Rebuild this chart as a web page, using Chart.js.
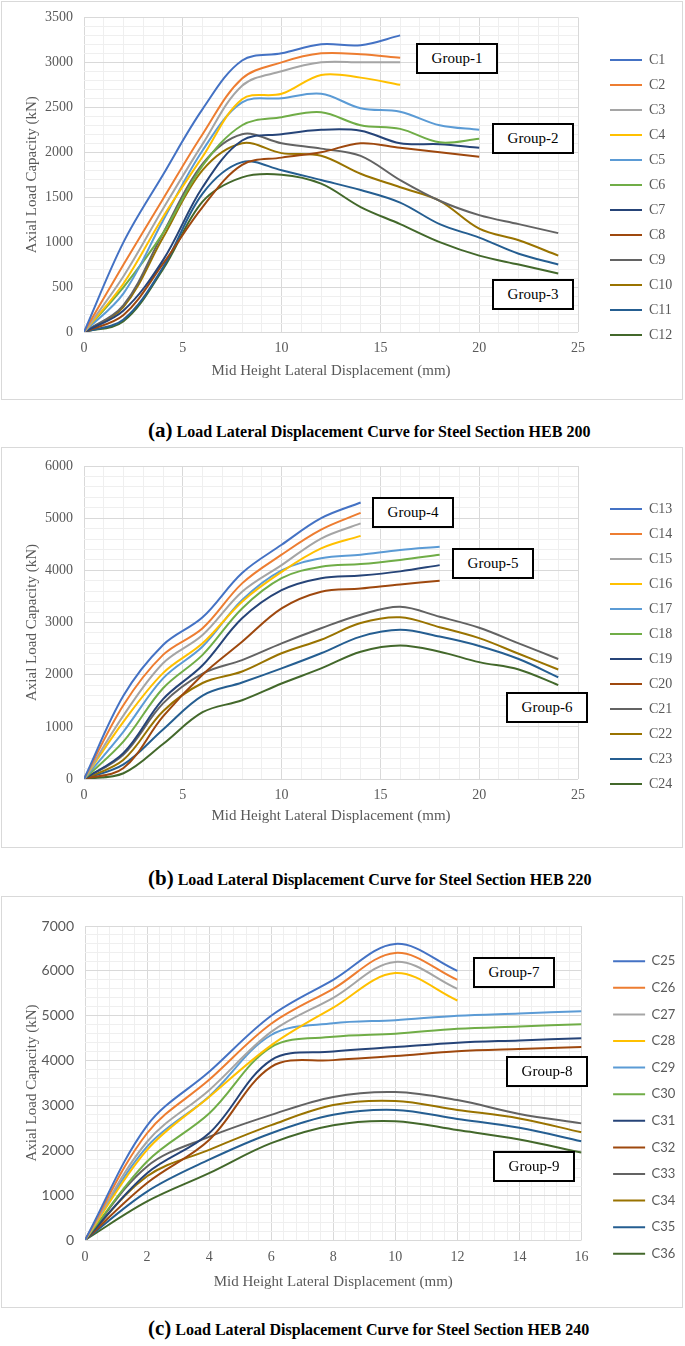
<!DOCTYPE html>
<html>
<head>
<meta charset="utf-8">
<script src="https://cdn.jsdelivr.net/npm/chart.js@4.4.1/dist/chart.umd.min.js"></script>
<style>
  body { margin: 0; background: #fff; width: 685px; height: 1346px; position: relative; overflow: hidden; font-family: "Liberation Serif", serif; }
  .panel { position: absolute; left: 1px; width: 682px; border: 1px solid #d9d9d9; box-sizing: border-box; }
  canvas { position: absolute; left: 0; z-index: 1; }
  .grp { position: absolute; z-index: 2; border: 2px solid #000; box-sizing: border-box; background: #fff;
         font: 15px "Liberation Serif", serif; color: #000; display: flex; align-items: center; justify-content: center; }
  .cap { position: absolute; left: 148px; font-family: "Liberation Serif", serif; font-weight: bold; color: #000; white-space: nowrap; line-height: 24px; }
  .cap b { font-size: 21px; margin-right: 4px; }
  .cap span { font-size: 16px; }
</style>
</head>
<body>
<div class="panel" style="top:1px;height:399px"></div>
<div class="panel" style="top:447px;height:401px"></div>
<div class="panel" style="top:896px;height:412px"></div>

<canvas id="chartA" width="685" height="400" style="top:-2px"></canvas>
<canvas id="chartB" width="685" height="410" style="top:440px"></canvas>
<canvas id="chartC" width="685" height="420" style="top:890px"></canvas>

<div class="grp" style="left:416px;top:43px;width:82px;height:31px">Group-1</div>
<div class="grp" style="left:492px;top:123px;width:82px;height:31px">Group-2</div>
<div class="grp" style="left:492px;top:279px;width:82px;height:31px">Group-3</div>
<div class="grp" style="left:372px;top:497px;width:82px;height:31px">Group-4</div>
<div class="grp" style="left:452px;top:548px;width:82px;height:31px">Group-5</div>
<div class="grp" style="left:506px;top:692px;width:82px;height:31px">Group-6</div>
<div class="grp" style="left:473px;top:957px;width:82px;height:31px">Group-7</div>
<div class="grp" style="left:506px;top:1056px;width:82px;height:31px">Group-8</div>
<div class="grp" style="left:493px;top:1151px;width:82px;height:31px">Group-9</div>

<div class="cap" style="top:418px"><b>(a)</b><span>Load Lateral Displacement Curve for Steel Section HEB 200</span></div>
<div class="cap" style="top:866px"><b>(b)</b><span>Load Lateral Displacement Curve for Steel Section HEB 220</span></div>
<div class="cap" style="top:1316px"><b>(c)</b><span>Load Lateral Displacement Curve for Steel Section HEB 240</span></div>

<script>
Chart.defaults.font.family = '"Liberation Serif", serif';

const palette = ['#4472C4', '#ED7D31', '#A5A5A5', '#FFC000', '#5B9BD5', '#70AD47',
                 '#264478', '#9E480E', '#636363', '#997300', '#255E91', '#43682B'];

// (a) HEB 200 - displacement (mm) for each group
const dispG1 = [0, 2, 4, 6, 8, 10, 12, 14, 16];
const dispG2 = [0, 2, 4, 6, 8, 10, 12, 14, 16, 18, 20];
const dispG3 = [0, 2, 4, 6, 8, 10, 12, 14, 16, 18, 20, 22, 24];
// axial load (kN)
const c1 = [0, 1000, 1750, 2480, 3020, 3100, 3200, 3190, 3300];
const c2 = [0, 750, 1480, 2200, 2820, 3000, 3100, 3090, 3050];
const c3 = [0, 620, 1370, 2090, 2740, 2900, 3000, 3000, 3000];
const c4 = [0, 540, 1280, 1950, 2590, 2650, 2860, 2830, 2750];
const c5 = [0, 430, 1240, 2020, 2555, 2600, 2650, 2490, 2450, 2300, 2250];
const c6 = [0, 500, 1100, 1850, 2300, 2390, 2445, 2300, 2260, 2110, 2150];
const c7 = [0, 240, 800, 1610, 2130, 2200, 2250, 2240, 2100, 2090, 2050];
const c8 = [0, 190, 760, 1390, 1860, 1940, 2000, 2100, 2050, 2000, 1950];
const c9 = [0, 300, 1100, 1870, 2200, 2100, 2040, 1960, 1690, 1460, 1300, 1200, 1100];
const c10 = [0, 280, 1050, 1800, 2100, 1990, 1960, 1760, 1610, 1460, 1150, 1020, 850];
const c11 = [0, 140, 720, 1540, 1890, 1800, 1690, 1580, 1440, 1200, 1050, 870, 750];
const c12 = [0, 120, 700, 1450, 1720, 1750, 1650, 1390, 1200, 1000, 850, 750, 650];

// (b) HEB 220
const dispG4 = [0, 2, 4, 6, 8, 10, 12, 14];
const dispG5 = [0, 2, 4, 6, 8, 10, 12, 14, 16, 18];
const dispG6 = [0, 2, 4, 6, 8, 10, 12, 14, 16, 18, 20, 22, 24];
const c13 = [0, 1600, 2570, 3100, 3950, 4490, 5000, 5300];
const c14 = [0, 1420, 2380, 2890, 3750, 4300, 4780, 5100];
const c15 = [0, 1220, 2220, 2760, 3590, 4100, 4610, 4900];
const c16 = [0, 1100, 2030, 2600, 3400, 3970, 4420, 4660];
const c17 = [0, 910, 1930, 2540, 3430, 4000, 4230, 4300, 4390, 4450];
const c18 = [0, 720, 1740, 2380, 3270, 3850, 4070, 4120, 4200, 4300];
const c19 = [0, 500, 1530, 2180, 3080, 3620, 3850, 3900, 3980, 4100];
const c20 = [0, 210, 1200, 2000, 2630, 3270, 3590, 3650, 3730, 3800];
const c21 = [0, 470, 1450, 2020, 2280, 2600, 2890, 3150, 3300, 3110, 2900, 2600, 2300];
const c22 = [0, 370, 1300, 1840, 2060, 2410, 2670, 2990, 3100, 2910, 2700, 2400, 2100];
const c23 = [0, 280, 950, 1600, 1850, 2120, 2410, 2730, 2860, 2730, 2550, 2300, 1950];
const c24 = [0, 110, 670, 1280, 1510, 1830, 2120, 2440, 2560, 2440, 2240, 2100, 1800];

// (c) HEB 240
const dispG7 = [0, 2, 4, 6, 8, 10, 12];
const dispG8 = [0, 2, 4, 6, 8, 10, 12, 14, 16];
const dispG9 = [0, 2, 4, 6, 8, 10, 12, 14, 16];
const c25 = [0, 2550, 3750, 5000, 5800, 6600, 6000];
const c26 = [0, 2380, 3570, 4820, 5600, 6400, 5800];
const c27 = [0, 2190, 3340, 4640, 5400, 6200, 5600];
const c28 = [0, 2010, 3190, 4340, 5180, 5950, 5340];
const c29 = [0, 2080, 3200, 4570, 4830, 4900, 5000, 5050, 5100];
const c30 = [0, 1750, 2820, 4300, 4530, 4600, 4710, 4760, 4810];
const c31 = [0, 1490, 2380, 4010, 4200, 4300, 4400, 4450, 4500];
const c32 = [0, 1270, 2230, 3860, 4010, 4100, 4210, 4260, 4300];
const c33 = [0, 1640, 2300, 2790, 3190, 3300, 3120, 2810, 2600];
const c34 = [0, 1420, 2010, 2560, 3010, 3100, 2900, 2710, 2400];
const c35 = [0, 1080, 1790, 2380, 2790, 2900, 2700, 2500, 2200];
const c36 = [0, 860, 1490, 2160, 2560, 2650, 2450, 2240, 1950];

const grey = '#595959';
const serif = '"Liberation Serif", serif';

function nearMultiple(v, step) {
  return Math.abs(v / step - Math.round(v / step)) < 1e-6;
}

function buildChart(canvasId, spec) {
  const g = spec.geo;
  const datasets = spec.series.map((s, i) => ({
    label: s[0],
    data: s[1].map((x, k) => ({ x: x, y: s[2][k] })),
    borderColor: palette[i],
    backgroundColor: palette[i],
    borderWidth: 2,
    pointRadius: 0,
    tension: 0.35,
    fill: false
  }));

  const gridColor = step => ctx => nearMultiple(ctx.tick.value, step) ? '#d9d9d9' : '#efefef';

  const chart = new Chart(document.getElementById(canvasId), {
    type: 'line',
    data: { datasets: datasets },
    options: {
      responsive: false,
      animation: false,
      events: [],
      layout: { padding: { left: g.padL, top: g.padT, right: 0, bottom: g.padB } },
      plugins: {
        legend: {
          position: 'right',
          labels: {
            usePointStyle: true,
            pointStyle: 'line',
            pointStyleWidth: 32,
            padding: g.legPad,
            color: grey,
            font: spec.legendFont
          }
        },
        tooltip: { enabled: false }
      },
      scales: {
        x: {
          type: 'linear',
          min: 0,
          max: spec.xMax,
          ticks: {
            stepSize: spec.xMinor,
            maxTicksLimit: 200,
            autoSkip: false,
            maxRotation: 0,
            padding: g.xTickPad,
            color: grey,
            font: { family: serif, size: 14 },
            callback: v => nearMultiple(v, spec.xMajor) ? String(Math.round(v)) : ''
          },
          grid: { color: gridColor(spec.xMajor), drawTicks: false },
          border: { display: false },
          title: {
            display: true,
            text: 'Mid Height Lateral Displacement (mm)',
            color: grey,
            font: { family: serif, size: 15 },
            padding: { top: 0, bottom: g.xTitlePad }
          },
          afterFit: s => { s.height = g.xH; }
        },
        y: {
          type: 'linear',
          min: 0,
          max: spec.yMax,
          ticks: {
            stepSize: spec.yMinor,
            maxTicksLimit: 200,
            autoSkip: false,
            padding: 11,
            color: grey,
            font: spec.yTickFont,
            callback: v => nearMultiple(v, spec.yMajor) ? String(v) : ''
          },
          grid: { color: gridColor(spec.yMajor), drawTicks: false },
          border: { display: false },
          title: {
            display: true,
            text: 'Axial Load Capacity (kN)',
            color: grey,
            font: { family: serif, size: 15 },
            padding: { top: 19, bottom: 0 }
          },
          afterFit: s => { s.width = g.yW; }
        },
        gap: {
          type: 'linear',
          position: 'right',
          min: 0,
          max: 1,
          grid: { display: false },
          ticks: { display: false },
          border: { display: false },
          afterFit: s => { s.width = g.gap; }
        }
      }
    }
  });

  // second pass: push the legend so its left edge sits where the original has it
  const shift = chart.legend.left - g.legendLeft;
  chart.options.layout.padding = { left: g.padL, top: g.padT, right: shift, bottom: g.padB };
  chart.update();
  return chart;
}

buildChart('chartA', {
  series: [
    ['C1', dispG1, c1], ['C2', dispG1, c2], ['C3', dispG1, c3], ['C4', dispG1, c4],
    ['C5', dispG2, c5], ['C6', dispG2, c6], ['C7', dispG2, c7], ['C8', dispG2, c8],
    ['C9', dispG3, c9], ['C10', dispG3, c10], ['C11', dispG3, c11], ['C12', dispG3, c12]
  ],
  xMax: 25, xMajor: 5, xMinor: 1,
  yMax: 3500, yMajor: 500, yMinor: 100,
  yTickFont: { family: serif, size: 14 },
  legendFont: { family: serif, size: 14 },
  geo: { padL: 4, padT: 17, padB: 18, yW: 80, xH: 48, xTickPad: 8, xTitlePad: 0,
         legPad: 11, gap: 21, legendLeft: 599 }
});

buildChart('chartB', {
  series: [
    ['C13', dispG4, c13], ['C14', dispG4, c14], ['C15', dispG4, c15], ['C16', dispG4, c16],
    ['C17', dispG5, c17], ['C18', dispG5, c18], ['C19', dispG5, c19], ['C20', dispG5, c20],
    ['C21', dispG6, c21], ['C22', dispG6, c22], ['C23', dispG6, c23], ['C24', dispG6, c24]
  ],
  xMax: 25, xMajor: 5, xMinor: 1,
  yMax: 6000, yMajor: 1000, yMinor: 200,
  yTickFont: { family: serif, size: 14 },
  legendFont: { family: serif, size: 14 },
  geo: { padL: 4, padT: 26, padB: 23, yW: 80, xH: 48, xTickPad: 8, xTitlePad: 2,
         legPad: 11, gap: 21, legendLeft: 599 }
});

buildChart('chartC', {
  series: [
    ['C25', dispG7, c25], ['C26', dispG7, c26], ['C27', dispG7, c27], ['C28', dispG7, c28],
    ['C29', dispG8, c29], ['C30', dispG8, c30], ['C31', dispG8, c31], ['C32', dispG8, c32],
    ['C33', dispG9, c33], ['C34', dispG9, c34], ['C35', dispG9, c35], ['C36', dispG9, c36]
  ],
  xMax: 16, xMajor: 2, xMinor: 0.4,
  yMax: 7000, yMajor: 1000, yMinor: 200,
  yTickFont: { family: 'Lato, sans-serif', size: 14 },
  legendFont: { family: 'Lato, sans-serif', size: 13 },
  geo: { padL: 4, padT: 36, padB: 21, yW: 81, xH: 49, xTickPad: 9, xTitlePad: -2,
         legPad: 13.6, gap: 18, legendLeft: 599.5 }
});
</script>
</body>
</html>
